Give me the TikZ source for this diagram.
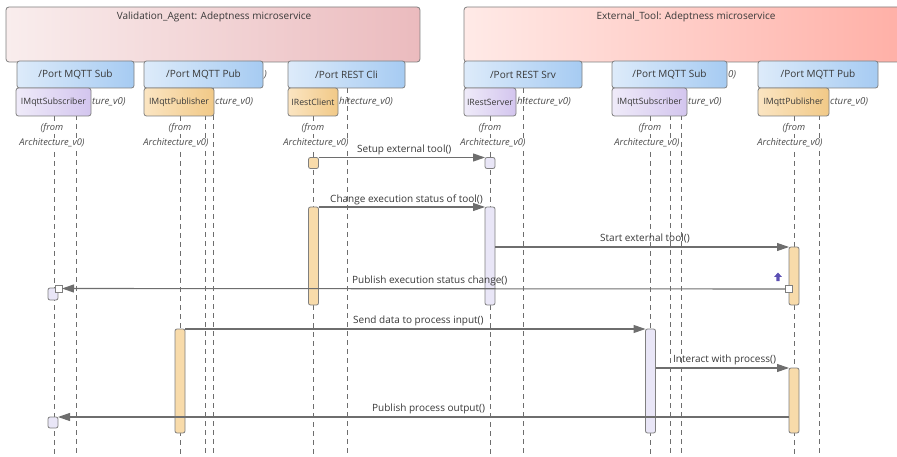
\documentclass[tikz,border=0pt]{standalone}
\usepackage{fontspec}
\setmainfont{Open Sans}
\usetikzlibrary{arrows.meta}
\definecolor{bord}{HTML}{7F7F7F}
\definecolor{txt}{HTML}{383838}
\definecolor{itxt}{HTML}{4A4A4A}
\definecolor{lineg}{HTML}{6E6E6E}
\definecolor{valL}{HTML}{F9EDED}
\definecolor{valR}{HTML}{EBBBBE}
\definecolor{extL}{HTML}{FFEAE7}
\definecolor{extR}{HTML}{FFB0A7}
\definecolor{portL}{HTML}{DDEBFA}
\definecolor{portR}{HTML}{A6CBF2}
\definecolor{lavL}{HTML}{EFEBF9}
\definecolor{lavR}{HTML}{D3C5EE}
\definecolor{orL}{HTML}{FBE5C2}
\definecolor{orR}{HTML}{F1C987}
\definecolor{barlav}{HTML}{E9E6F7}
\definecolor{baror}{HTML}{F8DBAA}
\definecolor{icon}{HTML}{5B4FB3}
\begin{document}
\begin{tikzpicture}[x=1pt,y=-1pt,
  topbox/.style={draw=bord, line width=0.8pt, rounded corners=3pt, inner sep=0pt, outer sep=0pt, minimum height=55pt},
  portbox/.style={draw=bord, line width=0.8pt, rounded corners=2.5pt, left color=portL, right color=portR, inner sep=0pt, outer sep=0pt, minimum height=27pt, text=txt, font=\fontsize{10}{12}\selectfont},
  ifbox/.style={draw=bord, line width=0.8pt, rounded corners=2.5pt, inner sep=0pt, outer sep=0pt, minimum height=28pt, text=txt, font=\fontsize{8.7}{10}\selectfont},
  iflav/.style={ifbox, left color=lavL, right color=lavR},
  ifor/.style={ifbox, left color=orL, right color=orR},
  toplabel/.style={text=txt, font=\fontsize{10}{12}\selectfont, inner sep=0pt},
  hid/.style={text=itxt, font=\fontsize{9.6}{11}\selectfont\itshape, inner sep=1pt, anchor=west},
  fromlbl/.style={text=itxt, font=\fontsize{9.3}{11}\selectfont\itshape, inner sep=0.5pt, fill=white},
  lifeline/.style={draw=lineg, line width=0.8pt, dash pattern=on 5pt off 4pt},
  actbar/.style={draw=bord, line width=0.8pt, rounded corners=2pt, inner sep=0pt, outer sep=0pt, minimum width=10pt},
  actlav/.style={actbar, fill=barlav},
  actor/.style={actbar, fill=baror},
  msg/.style={draw=lineg, line width=1.1pt, -{Triangle[length=12pt,width=8pt]}},
  msglbl/.style={text=txt, font=\fontsize{10}{12}\selectfont, inner sep=0pt, anchor=west},
  endsq/.style={draw=bord, line width=0.8pt, fill=white, inner sep=0pt, outer sep=0pt, minimum size=7pt}
]
\useasboundingbox (0,0) rectangle (897,457);

% container boxes
\node[topbox, left color=valL, right color=valR, minimum width=414pt] (va) at (213,34.5) {};
\node[topbox, left color=extL, right color=extR, minimum width=436pt] (et) at (682,34.5) {};
\node[toplabel] (valbl) at (214,17) {Validation\_Agent: Adeptness microservice};
\node[toplabel] (etlbl) at (686,17) {External\_Tool: Adeptness microservice};

% lifeline end coordinates
\foreach \n/\x/\t in {l1/54/116, l2/180/116, l3/313/116, r1/490/116, r2/650/116, r3/794/116,
                      s1/76/88, s2/205/88, s3/213/88, s4/347/88, s5/523/88, s6/670/88, s7/681/88, s8/819/88}{
  \coordinate (\n top) at (\x,\t);
  \coordinate (\n bot) at (\x,457);
}
\foreach \n in {l1,l2,l3,r1,r2,r3,s1,s2,s3,s4,s5,s6,s7,s8}{
  \draw[lifeline] (\n top) -- (\n bot);
}

% port boxes
\node[portbox, minimum width=117pt] (psub1) at (75.5,74.5) {/Port MQTT Sub};
\node[portbox, minimum width=119pt] (ppub1) at (203.5,74.5) {/Port MQTT Pub};
\node[portbox, minimum width=117pt] (pcli) at (346.5,74.5) {/Port REST Cli};
\node[portbox, minimum width=118pt] (psrv) at (523,74.5) {/Port REST Srv};
\node[portbox, minimum width=115pt] (psub2) at (669.5,74.5) {/Port MQTT Sub};
\node[portbox, minimum width=120pt] (ppub2) at (818,74.5) {/Port MQTT Pub};
\node[hid] (hp1) at (ppub1.east) {)};
\node[hid] (hp2) at (psub2.east) {0)};

% interface boxes
\node[iflav, minimum width=75pt] (isub1) at (53.5,102) {IMqttSubscriber};
\node[ifor, minimum width=70pt] (ipub1) at (179,102) {IMqttPublisher};
\node[ifor, minimum width=50pt] (icli) at (313,102) {IRestClient};
\node[iflav, minimum width=52pt] (isrv) at (490,102) {IRestServer};
\node[iflav, minimum width=75pt] (isub2) at (649.5,102) {IMqttSubscriber};
\node[ifor, minimum width=71pt] (ipub2) at (793.5,102) {IMqttPublisher};

\node[hid] (hi1) at (isub1.east) {ture\_v0)};
\node[hid] (hi2) at (ipub1.east) {cture\_v0)};
\node[hid] (hi3) at (icli.east) {hitecture\_v0)};
\node[hid] (hi4) at (isrv.east) {hitecture\_v0)};
\node[hid] (hi5) at (isub2.east) {ture\_v0)};
\node[hid] (hi6) at (ipub2.east) {cture\_v0)};

% (from Architecture_v0) labels
\foreach \n/\x/\y in {l1/52/52, l2/180/176, l3/313/316, r1/490/493, r2/650/647, r3/794/790}{
  \node[fromlbl] (\n from) at (\x,128) {(from};
  \node[fromlbl] (\n arch) at (\y,143) {Architecture\_v0)};
}

% activation bars
\node[actor, minimum height=11pt] (cliA) at (313.5,163) {};
\node[actor, minimum height=98pt] (cliB) at (313.5,256) {};
\node[actlav, minimum height=11pt] (srvA) at (490,163) {};
\node[actlav, minimum height=98pt] (srvB) at (490,256) {};
\node[actor, minimum height=58pt] (pubA) at (794,276) {};
\node[actlav, minimum height=12pt] (subA) at (53,294) {};
\node[actor, minimum height=104pt] (pubL) at (180,381) {};
\node[actlav, minimum height=104pt] (subM) at (650.5,381) {};
\node[actor, minimum height=65pt] (pubB) at (794,400.5) {};
\node[actlav, minimum height=11pt] (subB) at (53,422.5) {};

% messages
\draw[msg] (cliA.north east) -- (srvA.north west);
\node[msglbl] (m1) at (357,150) {Setup external tool()};

\draw[msg] (cliB.north east) -- (srvB.north west);
\node[msglbl] (m2) at (330,199.5) {Change execution status of tool()};

\draw[msg] (srvB.east |- pubA.north west) -- (pubA.north west);
\node[msglbl] (m3) at (600,238.5) {Start external tool()};

\node[endsq] (sq1) at (789,289) {};
\node[endsq] (sq2) at (58.5,288.5) {};
\draw[msg] (sq1.west) -- (sq2.east);
\node[msglbl] (m4) at (352,281) {Publish execution status change()};
\fill[icon] (778,272.5) -- (781.8,276.8) -- (779.6,276.8) -- (779.6,281) -- (776.4,281) -- (776.4,276.8) -- (774.2,276.8) -- cycle;

\draw[msg] (pubL.north east) -- (subM.north west);
\node[msglbl] (m5) at (353,320.5) {Send data to process input()};

\draw[msg] (subM.east |- pubB.north west) -- (pubB.north west);
\node[msglbl] (m6) at (673,360) {Interact with process()};

\draw[msg] (pubB.west |- subB.north east) -- (subB.north east);
\node[msglbl] (m7) at (372,408.5) {Publish process output()};
\end{tikzpicture}
\end{document}
